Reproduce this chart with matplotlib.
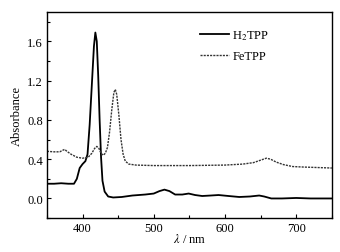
import matplotlib
matplotlib.use("Agg")
import matplotlib.pyplot as plt
from matplotlib.ticker import MultipleLocator

plt.rcParams['font.family'] = ['Liberation Serif', 'DejaVu Serif']
plt.rcParams['mathtext.fontset'] = 'stix'

# H2TPP spectrum (wavelength nm, absorbance)
h2_wl = [350, 360, 370, 380, 388, 392, 396, 400, 404, 407, 410, 413, 416, 418,
         420, 422, 424, 426, 428, 431, 436, 443, 455, 470, 488, 500, 508, 515,
         522, 530, 540, 549, 558, 568, 580, 591, 605, 620, 635, 648, 655, 665,
         680, 700, 720, 750]
h2_abs = [0.15, 0.15, 0.155, 0.15, 0.15, 0.2, 0.31, 0.35, 0.38, 0.45, 0.75, 1.15,
          1.55, 1.69, 1.6, 1.25, 0.8, 0.42, 0.18, 0.07, 0.02, 0.01, 0.015, 0.03,
          0.04, 0.05, 0.075, 0.09, 0.075, 0.04, 0.04, 0.05, 0.035, 0.025, 0.03,
          0.035, 0.025, 0.015, 0.02, 0.03, 0.02, 0.0, 0.0, 0.005, 0.0, 0.0]

# FeTPP spectrum
fe_wl = [350, 360, 368, 372, 375, 378, 384, 392, 400, 408, 413, 417, 420, 423,
         426, 429, 432, 435, 438, 441, 444, 446, 448, 451, 454, 457, 460, 465,
         475, 500, 550, 600, 625, 640, 650, 658, 664, 672, 682, 695, 710, 730, 750]
fe_abs = [0.48, 0.475, 0.475, 0.49, 0.50, 0.48, 0.45, 0.42, 0.41, 0.42, 0.46,
          0.51, 0.53, 0.51, 0.46, 0.44, 0.46, 0.52, 0.68, 0.9, 1.08, 1.11, 1.06,
          0.85, 0.6, 0.45, 0.38, 0.35, 0.34, 0.335, 0.335, 0.34, 0.35, 0.365,
          0.39, 0.41, 0.40, 0.37, 0.345, 0.325, 0.32, 0.315, 0.31]

yticks = [0.0, 0.4, 0.8, 1.2, 1.6]
xticks = [400, 500, 600, 700]

fig = plt.figure(figsize=(3.4, 2.53), dpi=100)
ax = fig.add_axes([0.138, 0.134, 0.838, 0.815])

ax.plot(h2_wl, h2_abs, color='black', lw=1.3, label='H$_2$TPP')
ax.plot(fe_wl, fe_abs, color='#333333', lw=1.0, dashes=(1.5, 0.8), label='FeTPP')

ax.set_xlim(350, 750)
ax.set_ylim(-0.2, 1.9)
ax.set_xticks(xticks)
ax.set_yticks(yticks)
ax.set_yticklabels([f"{v:.1f}" for v in yticks])
ax.xaxis.set_minor_locator(MultipleLocator(50))
ax.yaxis.set_minor_locator(MultipleLocator(0.2))
ax.tick_params(direction='in', labelsize=9, length=3, width=0.8)
ax.tick_params(axis='x', pad=2.5)
ax.tick_params(axis='y', pad=3)
ax.tick_params(which='minor', direction='in', length=2, width=0.8)
ax.tick_params(top=False, right=False, which='both')
for s in ax.spines.values():
    s.set_linewidth(1.0)

ax.set_xlabel(r'$\lambda$ / nm', fontsize=9, labelpad=-1)
ax.set_ylabel('Absorbance', fontsize=9, labelpad=3)

ax.legend(loc='upper left', bbox_to_anchor=(0.588, 0.885),
          bbox_transform=fig.transFigure, frameon=False, borderpad=0,
          borderaxespad=0, fontsize=9, handlelength=2.3, handletextpad=0.3,
          labelspacing=0.65)

fig.savefig('out.png', dpi=100)
